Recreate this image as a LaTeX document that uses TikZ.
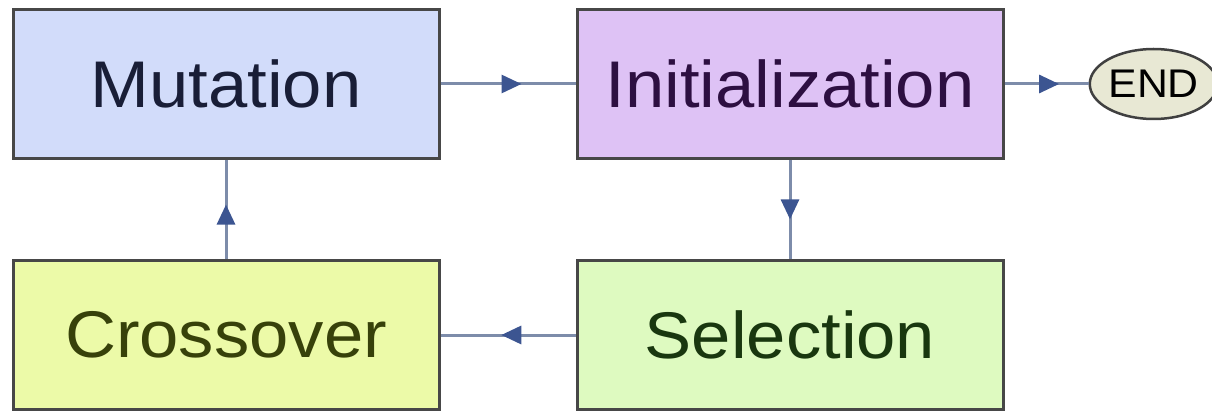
\documentclass[tikz,border=0pt]{standalone}
\usepackage{fontspec}
\setmainfont[FakeStretch=1.07]{Liberation Sans}
\usepackage{xcolor}
\usepackage{tikz}
\usetikzlibrary{positioning, arrows.meta, shapes.geometric, decorations.markings}
\definecolor{mutfill}{RGB}{210,220,250}
\definecolor{muttext}{RGB}{25,30,55}
\definecolor{initfill}{RGB}{222,194,245}
\definecolor{inittext}{RGB}{45,15,65}
\definecolor{crossfill}{RGB}{236,250,168}
\definecolor{crosstext}{RGB}{55,65,10}
\definecolor{selfill}{RGB}{222,250,192}
\definecolor{seltext}{RGB}{25,55,15}
\definecolor{endfill}{RGB}{232,232,212}
\definecolor{linkgray}{RGB}{125,140,170}
\definecolor{linkblue}{RGB}{60,85,145}
\tikzset{stage/.style={
    rectangle,
    draw=black!72,
    line width=3pt,
    minimum width=426pt,
    minimum height=149pt,
    inner sep=0pt,
    font=\fontsize{66}{78}\selectfont
}}
\tikzset{endnode/.style={
    ellipse,
    draw=black!75,
    line width=2.5pt,
    fill=endfill,
    minimum width=125pt,
    minimum height=70pt,
    inner sep=0pt,
    font=\fontsize{40}{46}\selectfont
}}
\tikzset{flow/.style={
    draw=linkgray,
    line width=3pt,
    postaction={decorate},
    decoration={markings,
        mark=at position #1 with {\arrow{Triangle[length=20pt,width=18pt,color=linkblue]}}}
}, flow/.default=0.55}

\begin{document}
\begin{tikzpicture}[x=1pt, y=1pt]
    \useasboundingbox (0,0) rectangle (1212,-414);
    % top row
    \node (mut) [stage, fill=mutfill, text=muttext] at (226,-84) {Mutation};
    \node (init) [stage, fill=initfill, text=inittext, right=135pt of mut] {Initialization};
    \node (end) [endnode, right=84pt of init] {END};
    % bottom row
    \node (cross) [stage, fill=crossfill, text=crosstext, below=99pt of mut] {Crossover};
    \node (sel) [stage, fill=selfill, text=seltext, below=99pt of init] {Selection};
    % connectors
    \draw [flow=0.6] (mut) -- (init);
    \draw [flow=0.65] (init) -- (end);
    \draw [flow=0.6] (init) -- (sel);
    \draw [flow=0.55] (sel) -- (cross);
    \draw [flow=0.55] (cross) -- (mut);
\end{tikzpicture}
\end{document}
